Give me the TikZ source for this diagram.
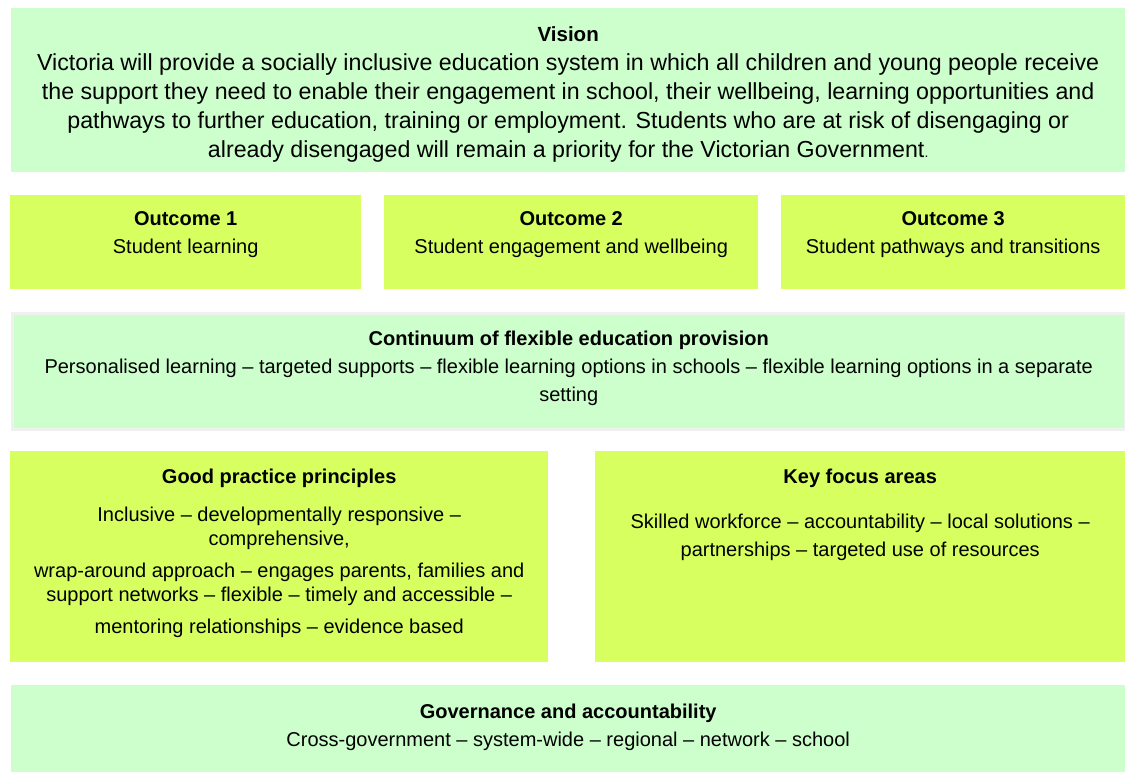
\documentclass[tikz,border=0pt]{standalone}
\usepackage{fontspec}
\setmainfont{Liberation Sans}
\usepackage{tikz}
\usetikzlibrary{positioning}
\definecolor{palegreen}{HTML}{CCFFCC}
\definecolor{limegreen}{HTML}{D7FF60}
\tikzset{
  panel/.style={fill=#1, draw=none, anchor=north west, inner sep=0pt},
  txt/.style={anchor=north, align=center, inner sep=0pt, font=\fontsize{20}{28}\selectfont}
}

\begin{document}
\begin{tikzpicture}[x=1pt,y=-1pt]
\useasboundingbox (0,0) rectangle (1125,772);
\node[panel=palegreen, minimum width=1114pt, minimum height=164pt] (vision) at (11,8) {};
\node[panel=limegreen, minimum width=351pt, minimum height=94pt] (out1) at (10,195) {};
\node[panel=limegreen, minimum width=374pt, minimum height=94pt] (out2) at (384,195) {};
\node[panel=limegreen, minimum width=344pt, minimum height=94pt] (out3) at (781,195) {};
\node[panel=palegreen, draw=black!6, line width=2.5pt, minimum width=1113pt, minimum height=116pt] (cont) at (11,312) {};
\node[panel=limegreen, minimum width=538pt, minimum height=211pt] (good) at (10,451) {};
\node[panel=limegreen, minimum width=530pt, minimum height=211pt] (focus) at (595,451) {};
\node[panel=palegreen, minimum width=1114pt, minimum height=87pt] (gov) at (11,685) {};

\node[txt, font=\fontsize{23.2}{29}\selectfont, below=18pt of vision.north] (visiontxt)
  {{\bfseries\fontsize{20.5}{29}\selectfont Vision}\\
   Victoria will provide a socially inclusive education system in which all children and young people receive\\
   the support they need to enable their engagement in school, their wellbeing, learning opportunities and\\
   pathways to further education, training or employment. Students who are at risk of disengaging or\\
   already disengaged will remain a priority for the Victorian Government{\fontsize{14}{14}\selectfont .}};
\node[txt, below=16pt of out1.north] (out1txt) {\textbf{Outcome 1}\\Student learning};
\node[txt, below=16pt of out2.north] (out2txt) {\textbf{Outcome 2}\\Student engagement and wellbeing};
\node[txt, below=16pt of out3.north] (out3txt) {\textbf{Outcome 3}\\Student pathways and transitions};
\node[txt, below=19pt of cont.north] (conttxt)
  {\textbf{Continuum of flexible education provision}\\
   Personalised learning -- targeted supports -- flexible learning options in schools -- flexible learning options in a separate\\
   setting};
\node[txt, below=18pt of good.north] (goodtxt)
  {\textbf{Good practice principles}\\[10pt]
   Inclusive -- developmentally responsive --\\[-4pt]
   comprehensive,\\[4pt]
   wrap-around approach -- engages parents, families and\\[-4pt]
   support networks -- flexible -- timely and accessible --\\[4pt]
   mentoring relationships -- evidence based};
\node[txt, below=18pt of focus.north] (focustxt)
  {\textbf{Key focus areas}\\[17pt]
   Skilled workforce -- accountability -- local solutions --\\
   partnerships -- targeted use of resources};
\node[txt, below=19pt of gov.north] (govtxt)
  {\textbf{Governance and accountability}\\
   Cross-government -- system-wide -- regional -- network -- school};
\end{tikzpicture}
\end{document}
